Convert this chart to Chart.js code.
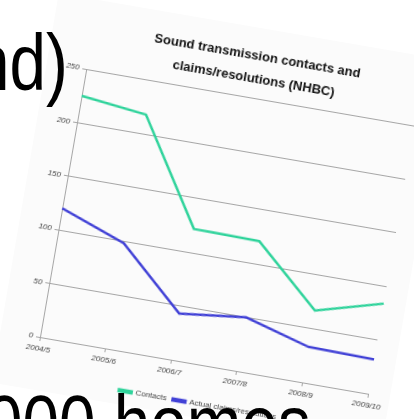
<!DOCTYPE html>
<html>
<head>
<meta charset="utf-8">
<script src="https://cdn.jsdelivr.net/npm/chart.js@4.4.0/dist/chart.umd.min.js"></script>
<style>
    html, body { margin: 0; padding: 0; background: #ffffff; overflow: hidden; }
    body { width: 414px; height: 419px; position: relative; }
    #chartBox {
        position: absolute;
        left: 0;
        top: -5px;
        width: 395px;
        height: 395px;
        transform-origin: 40px 342px;
        transform: rotate(9.8deg);
        background: #fbfbfb;
    }
    .slideText {
        position: absolute;
        font-family: 'Liberation Sans', Arial, sans-serif;
        font-size: 80px;
        color: #000;
        white-space: nowrap;
        line-height: 1;
        transform-origin: 0 0;
        transform: scaleX(0.82);
    }
</style>
</head>
<body>
<div id="chartBox"><canvas id="soundChart" width="395" height="395"></canvas></div>
<div class="slideText" style="left:-27px; top:23px;">nd)</div>
<div class="slideText" style="left:-14px; top:384px;">000 homes</div>
<script>
const years = ['2004/5', '2005/6', '2006/7', '2007/8', '2008/9', '2009/10'];
const contacts = [225, 218, 122, 121, 67, 84];
const claims = [120, 98, 43, 50, 33, 32];
const titleLines = ['Sound transmission contacts and', 'claims/resolutions (NHBC)'];

document.addEventListener('DOMContentLoaded', function() {
    const ctx = document.getElementById('soundChart').getContext('2d');
    new Chart(ctx, {
        type: 'line',
        data: {
            labels: years,
            datasets: [
                {
                    label: 'Contacts',
                    data: contacts,
                    borderColor: '#2fd39b',
                    backgroundColor: '#2fd39b',
                    borderWidth: 2.5,
                    pointRadius: 0,
                    tension: 0
                },
                {
                    label: 'Actual claims/resolutions',
                    data: claims,
                    borderColor: '#4141d6',
                    backgroundColor: '#4141d6',
                    borderWidth: 2.5,
                    pointRadius: 0,
                    tension: 0
                }
            ]
        },
        options: {
            responsive: false,
            animation: false,
            layout: {
                padding: { left: 0, right: 22, top: 0, bottom: 0 }
            },
            plugins: {
                title: {
                    display: true,
                    fullSize: false,
                    text: titleLines,
                    color: '#111',
                    font: {
                        family: "'Liberation Sans', sans-serif",
                        size: 13,
                        weight: 'bold',
                        lineHeight: 1.75
                    },
                    padding: { top: 17.5, bottom: 7 }
                },
                legend: {
                    position: 'bottom',
                    fullSize: false,
                    labels: {
                        color: '#444',
                        boxWidth: 13,
                        boxHeight: 2,
                        padding: 6,
                        font: {
                            family: "'Liberation Sans', sans-serif",
                            size: 8
                        }
                    }
                },
                tooltip: { enabled: false }
            },
            scales: {
                y: {
                    min: 0,
                    max: 250,
                    afterFit: function(scale) { scale.width = 40; },
                    ticks: {
                        stepSize: 50,
                        color: '#444',
                        padding: 3,
                        font: {
                            family: "'Liberation Sans', sans-serif",
                            size: 8,
                            style: 'italic'
                        }
                    },
                    grid: {
                        color: '#a6a6a6',
                        lineWidth: 1,
                        tickLength: 4
                    },
                    border: { color: '#a6a6a6' }
                },
                x: {
                    afterFit: function(scale) { scale.height = 29; },
                    ticks: {
                        color: '#444',
                        padding: 3,
                        maxRotation: 0,
                        font: {
                            family: "'Liberation Sans', sans-serif",
                            size: 8,
                            style: 'italic'
                        }
                    },
                    grid: {
                        drawOnChartArea: false,
                        color: '#a6a6a6',
                        tickLength: 4
                    },
                    border: { color: '#a6a6a6' }
                }
            }
        }
    });
});
</script>
</body>
</html>
